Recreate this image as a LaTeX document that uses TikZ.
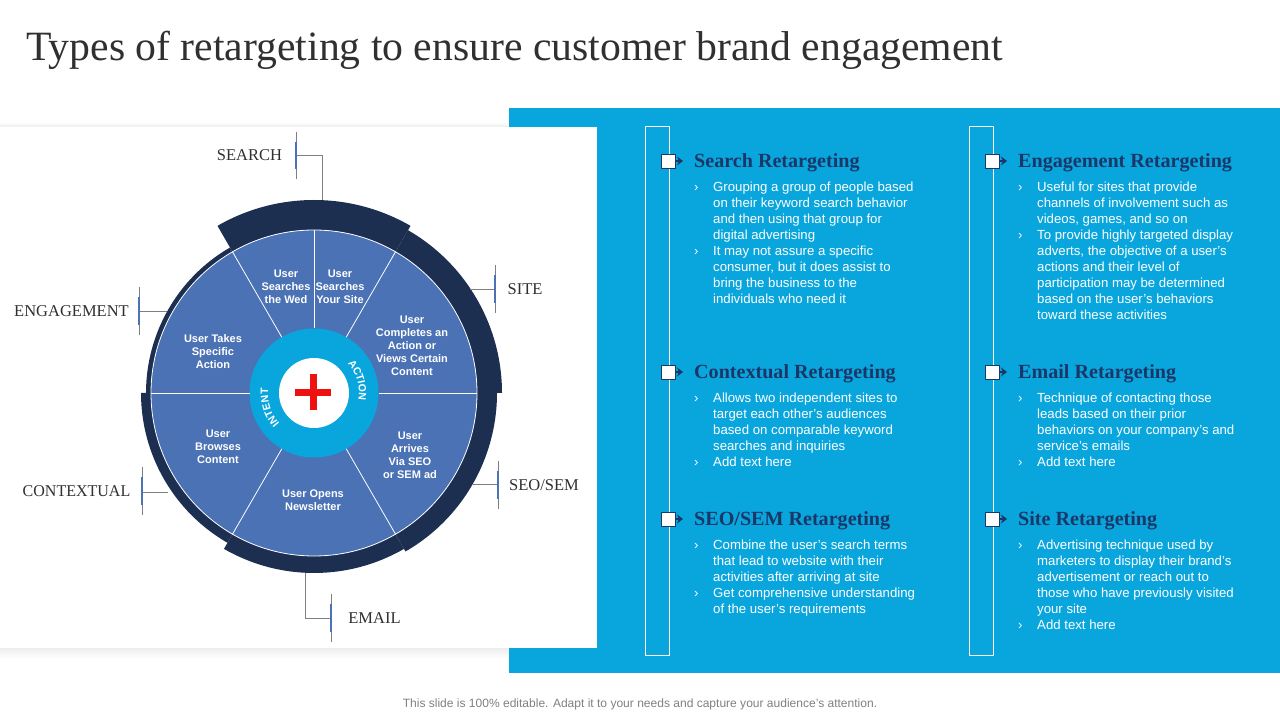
\documentclass[tikz,border=0pt]{standalone}
\usepackage{fontspec}
\setmainfont{Liberation Sans}
\newfontfamily\headfont{Liberation Serif}
\usetikzlibrary{arrows.meta,decorations.text}
\definecolor{skyblue}{HTML}{09A6DE}
\definecolor{wheelblue}{HTML}{4A72B4}
\definecolor{navy}{HTML}{1D2F50}
\definecolor{headblue}{HTML}{1B3768}
\definecolor{leadgrey}{HTML}{7F7F7F}
\definecolor{inkgrey}{HTML}{303030}
\definecolor{crossred}{HTML}{EE1111}
\tikzstyle{ringarc}=[fill=navy]
\tikzstyle{spoke}=[draw=white,line width=.8pt]
\tikzstyle{sector}=[text=white,align=center,font=\fontsize{11}{13}\selectfont\bfseries,inner sep=0pt]
\tikzstyle{tag}=[text=inkgrey,font=\fontsize{16.5}{18}\headfont,inner sep=0pt]
\tikzstyle{lead}=[draw=leadgrey,line width=.8pt]
\tikzstyle{tickline}=[draw=leadgrey,line width=.6pt]
\tikzstyle{tickmid}=[draw=wheelblue,line width=1.6pt]
\tikzstyle{bar}=[draw=white,line width=.9pt]
\tikzstyle{box}=[draw=headblue,fill=white,line width=.9pt,minimum size=14pt,inner sep=0pt]
\tikzstyle{pointer}=[draw=headblue,line width=1.5pt,-{Stealth[length=6pt,width=9pt]}]
\tikzstyle{head}=[anchor=west,text=headblue,yshift=-2pt,font=\fontsize{20.1}{22}\headfont\bfseries,inner sep=0pt]
\tikzstyle{txt}=[anchor=north west,align=left,text=white,yshift=-4pt,font=\fontsize{13.2}{16}\selectfont,inner sep=0pt,execute at begin node=\strut]
\tikzstyle{txtone}=[anchor=north west,text=white,yshift=-2pt,font=\fontsize{13.2}{16}\selectfont,inner sep=0pt,execute at begin node=\strut]
\tikzstyle{bul}=[txtone]
\begin{document}
\begin{tikzpicture}[x=1pt,y=1pt]
\useasboundingbox (0,0) rectangle (1280,720);
\node[anchor=west,text=inkgrey,font=\fontsize{41.7}{44}\headfont,inner sep=0pt] (title) at (26,670) {Types of retargeting to ensure customer brand engagement};
\shade[bottom color=black!7,top color=white] (0,593) rectangle (509,598);
\shade[top color=black!7,bottom color=white] (0,72) rectangle (509,62);
\fill[skyblue] (509,612) rectangle (1280,47);
\fill[white] (0,593) rectangle (597,72);

\coordinate (mid) at (314,327);
\begin{scope}[shift={(mid)}]
\fill[ringarc] (120:160) arc (120:60:160) -- (60:193) arc (60:120:193) -- cycle;
\fill[ringarc] (60:160) arc (60:0:160) -- (0:188) arc (0:60:188) -- cycle;
\fill[ringarc] (0:160) arc (0:-60:160) -- (-60:183) arc (-60:0:183) -- cycle;
\fill[ringarc] (-60:160) arc (-60:-120:160) -- (-120:180) arc (-120:-60:180) -- cycle;
\fill[ringarc] (240:160) arc (240:180:160) -- (180:173) arc (180:240:173) -- cycle;
\fill[ringarc] (180:160) arc (180:120:160) -- (120:168) arc (120:180:168) -- cycle;
\end{scope}
\node[circle,draw=white,fill=wheelblue,line width=.8pt,minimum size=326pt,inner sep=0pt,outer sep=0pt] (wheel) at (mid) {};
\node[circle,fill=skyblue,minimum size=129pt,inner sep=0pt,outer sep=0pt] (hub) at (mid) {};
\draw[spoke] (hub.90) -- (wheel.90);
\draw[spoke] (hub.60) -- (wheel.60);
\draw[spoke] (hub.120) -- (wheel.120);
\draw[spoke] (hub.0) -- (wheel.0);
\draw[spoke] (hub.180) -- (wheel.180);
\draw[spoke] (hub.-60) -- (wheel.-60);
\draw[spoke] (hub.-120) -- (wheel.-120);
\node[circle,fill=white,minimum size=70pt,inner sep=0pt] (core) at (mid) {};
\fill[crossred] (295,324) rectangle (331,331);
\fill[crossred] (309.5,310) rectangle (316.5,346);
\begin{scope}[shift={(mid)}]
\path[decorate,decoration={text along path,text align=center,text={|\fontsize{10.5}{12}\selectfont\bfseries\color{white}|ACTION}}] (46:45) arc (46:-14:45);
\path[decorate,decoration={text along path,text align=center,text={|\fontsize{10.5}{12}\selectfont\bfseries\color{white}|INTENT}}] (228:46) arc (228:168:46);
\end{scope}

\node[sector] (webcell) at (286,433) {User\\Searches\\the Wed};
\node[sector] (sitecell) at (340,433) {User\\Searches\\Your Site};
\node[sector] (actioncell) at (412,374) {User\\Completes an\\Action or\\Views Certain\\Content};
\node[sector] (takescell) at (213,368) {User Takes\\Specific\\Action};
\node[sector] (browsecell) at (218,273) {User\\Browses\\Content};
\node[sector] (opencell) at (313,220) {User Opens\\Newsletter};
\node[sector] (arrivecell) at (410,265) {User\\Arrives\\Via SEO\\or SEM ad};

\node[tag] (searchtag) at (249.5,565) {SEARCH};
\node[tag] (engagetag) at (71.5,409) {ENGAGEMENT};
\node[tag] (sitetag) at (525,431) {SITE};
\node[tag] (seotag) at (544,235) {SEO/SEM};
\node[tag] (emailtag) at (374.5,102) {EMAIL};
\node[tag,xscale=.97] (contexttag) at (76.5,229) {CONTEXTUAL};

\coordinate (searchend) at (322.5,520);
\coordinate (searchtick) at (296,565);
\coordinate (engageend) at (167,409);
\coordinate (engagetick) at (139,409);
\coordinate (siteend) at (470,431);
\coordinate (sitetick) at (495,431);
\coordinate (seoend) at (473,236);
\coordinate (seotick) at (498,236);
\coordinate (emailend) at (305.5,147);
\coordinate (emailtick) at (331,102);
\coordinate (contextend) at (168,228);
\coordinate (contexttick) at (142,228);
\draw[lead] (searchend) |- (searchtick);
\draw[lead] (engageend) -- (engagetick);
\draw[lead] (siteend) -- (sitetick);
\draw[lead] (seoend) -- (seotick);
\draw[lead] (emailend) |- (emailtick);
\draw[lead] (contextend) -- (contexttick);
\draw[tickline] (296,588) -- (296,541);
\draw[tickline] (139,433) -- (139,385);
\draw[tickline] (495,455) -- (495,407);
\draw[tickline] (498,259) -- (498,211);
\draw[tickline] (331,126) -- (331,78);
\draw[tickline] (142,253) -- (142,205);
\draw[tickmid] (296,578) -- (296,551);
\draw[tickmid] (139,423) -- (139,395);
\draw[tickmid] (495,445) -- (495,417);
\draw[tickmid] (498,249) -- (498,221);
\draw[tickmid] (331,116) -- (331,88);
\draw[tickmid] (142,243) -- (142,215);

\draw[bar] (645,594) rectangle (669,65);
\draw[bar] (969,594) rectangle (993,65);

\node[box] (searchbox) at (668.5,559) {};
\node[box] (contextbox) at (668.5,348) {};
\node[box] (seobox) at (668.5,201) {};
\node[box] (engagebox) at (992.5,559) {};
\node[box] (emailbox) at (992.5,348) {};
\node[box] (sitebox) at (992.5,201) {};
\coordinate (searchtip) at (683,559);
\coordinate (contexttip) at (683,348);
\coordinate (seotip) at (683,201);
\coordinate (engagetip) at (1007,559);
\coordinate (emailtip) at (1007,348);
\coordinate (sitetip) at (1007,201);
\draw[pointer] (searchbox) -- (searchtip);
\draw[pointer] (contextbox) -- (contexttip);
\draw[pointer] (seobox) -- (seotip);
\draw[pointer] (engagebox) -- (engagetip);
\draw[pointer] (emailbox) -- (emailtip);
\draw[pointer] (sitebox) -- (sitetip);

\node[head] (searchhead) at (694,559) {Search Retargeting};
\node[bul] at (694,542) {›};
\node[txt] at (713,542) {Grouping a group of people based\\on their keyword search behavior\\and then using that group for\\digital advertising};
\node[bul] at (694,478) {›};
\node[txt] at (713,478) {It may not assure a specific\\consumer, but it does assist to\\bring the business to the\\individuals who need it};

\node[head] (contexthead) at (694,348) {Contextual Retargeting};
\node[bul] at (694,331) {›};
\node[txt] at (713,331) {Allows two independent sites to\\target each other's audiences\\based on comparable keyword\\searches and inquiries};
\node[bul] at (694,267) {›};
\node[txtone] at (713,267) {Add text here};

\node[head] (seohead) at (694,201) {SEO/SEM Retargeting};
\node[bul] at (694,184) {›};
\node[txt] at (713,184) {Combine the user's search terms\\that lead to website with their\\activities after arriving at site};
\node[bul] at (694,136) {›};
\node[txt] at (713,136) {Get comprehensive understanding\\of the user's requirements};

\node[head] (engagehead) at (1018,559) {Engagement Retargeting};
\node[bul] at (1018,542) {›};
\node[txt] at (1037,542) {Useful for sites that provide\\channels of involvement such as\\videos, games, and so on};
\node[bul] at (1018,494) {›};
\node[txt] at (1037,494) {To provide highly targeted display\\adverts, the objective of a user's\\actions and their level of\\participation may be determined\\based on the user's behaviors\\toward these activities};

\node[head] (emailhead) at (1018,348) {Email Retargeting};
\node[bul] at (1018,331) {›};
\node[txt] at (1037,331) {Technique of contacting those\\leads based on their prior\\behaviors on your company's and\\service's emails};
\node[bul] at (1018,267) {›};
\node[txtone] at (1037,267) {Add text here};

\node[head] (sitehead) at (1018,201) {Site Retargeting};
\node[bul] at (1018,184) {›};
\node[txt] at (1037,184) {Advertising technique used by\\marketers to display their brand's\\advertisement or reach out to\\those who have previously visited\\your site};
\node[bul] at (1018,104) {›};
\node[txtone] at (1037,104) {Add text here};

\node[text=black!50,font=\fontsize{12.03}{14}\selectfont,inner sep=0pt] (footnote) at (640,15.5) {This slide is 100\% editable. Adapt it to your needs and capture your audience's attention.};
\end{tikzpicture}
\end{document}
